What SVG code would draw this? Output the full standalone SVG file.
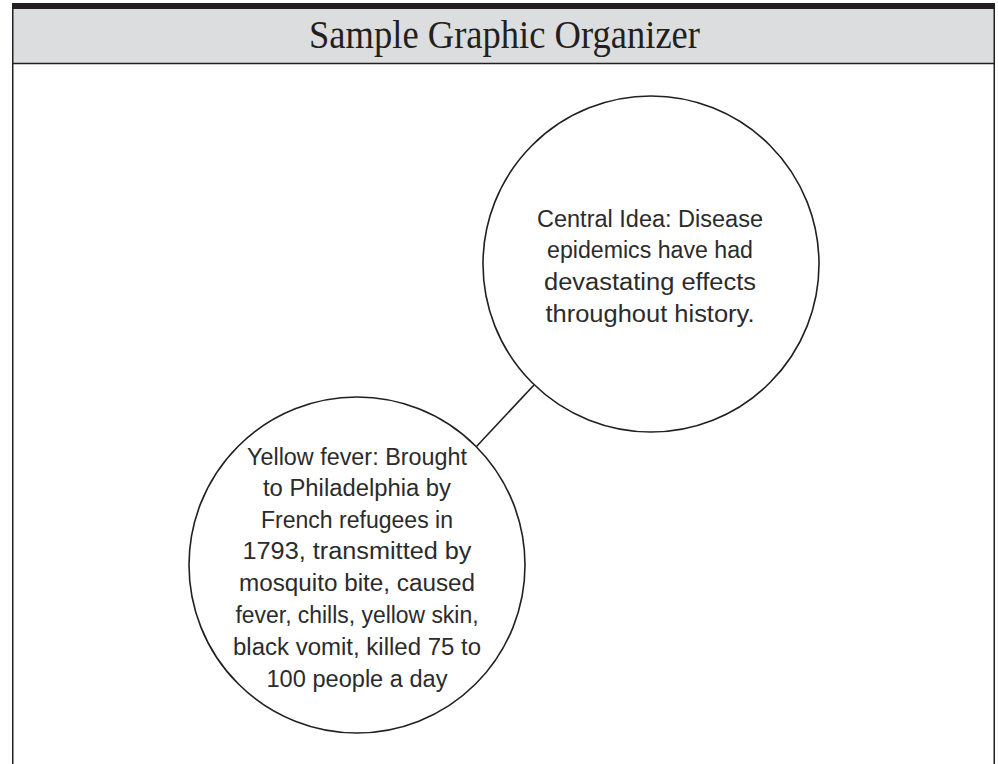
<svg xmlns="http://www.w3.org/2000/svg" width="998" height="764" viewBox="0 0 998 764">
<style>
.frame{stroke:#231f20;stroke-width:1.5;fill:none}
.node{fill:#ffffff;stroke:#231f20;stroke-width:1.6}
.conn{stroke:#231f20;stroke-width:1.6;fill:none}
.lbl{font-family:"Liberation Sans","DejaVu Sans",sans-serif;font-size:23px;fill:#2b2b2b;text-anchor:middle}
.title{font-family:"Liberation Serif","DejaVu Serif",serif;font-size:39px;fill:#231f20;text-anchor:middle}
</style>
<rect x="0" y="0" width="998" height="764" fill="#ffffff"/>
<g id="header">
<rect x="12" y="3" width="983" height="6" fill="#231f20"/>
<rect x="13" y="9" width="981" height="54" fill="#dcdddf"/>
<line class="frame" x1="12.75" y1="3" x2="12.75" y2="764"/>
<line class="frame" x1="994.25" y1="3" x2="994.25" y2="764"/>
<line class="frame" x1="12" y1="63.5" x2="995" y2="63.5"/>
<text class="title" x="504.5" y="48" textLength="391" lengthAdjust="spacingAndGlyphs">Sample Graphic Organizer</text>
</g>
<g id="connectors">
<line class="conn" x1="534" y1="385" x2="476" y2="447"/>
</g>
<g id="node-central">
<circle class="node" cx="651" cy="264" r="168"/>
<text class="lbl" x="650" y="227" textLength="226" lengthAdjust="spacingAndGlyphs">Central Idea: Disease</text>
<text class="lbl" x="650" y="258" textLength="206" lengthAdjust="spacingAndGlyphs">epidemics have had</text>
<text class="lbl" x="650" y="290" textLength="212" lengthAdjust="spacingAndGlyphs">devastating effects</text>
<text class="lbl" x="650" y="322" textLength="209" lengthAdjust="spacingAndGlyphs">throughout history.</text>
</g>
<g id="node-yellow-fever">
<circle class="node" cx="357" cy="565" r="168"/>
<text class="lbl" x="357" y="465" textLength="220" lengthAdjust="spacingAndGlyphs">Yellow fever: Brought</text>
<text class="lbl" x="357" y="496" textLength="188" lengthAdjust="spacingAndGlyphs">to Philadelphia by</text>
<text class="lbl" x="357" y="528" textLength="192" lengthAdjust="spacingAndGlyphs">French refugees in</text>
<text class="lbl" x="357" y="559" textLength="229" lengthAdjust="spacingAndGlyphs">1793, transmitted by</text>
<text class="lbl" x="357" y="591" textLength="236" lengthAdjust="spacingAndGlyphs">mosquito bite, caused</text>
<text class="lbl" x="357" y="623" textLength="243" lengthAdjust="spacingAndGlyphs">fever, chills, yellow skin,</text>
<text class="lbl" x="357" y="655" textLength="248" lengthAdjust="spacingAndGlyphs">black vomit, killed 75 to</text>
<text class="lbl" x="357" y="687" textLength="181" lengthAdjust="spacingAndGlyphs">100 people a day</text>
</g>
</svg>
